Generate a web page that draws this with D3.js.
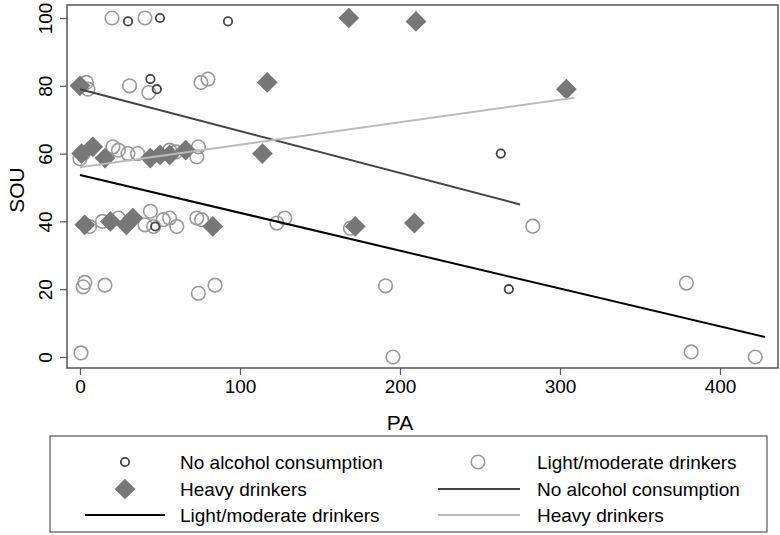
<!DOCTYPE html>
<html>
<head>
<meta charset="utf-8">
<script src="https://cdn.jsdelivr.net/npm/d3@7"></script>
<style>
  body { margin: 0; background: #fff; }
  svg text { font-family: "Liberation Sans", Arial, sans-serif; fill: #000; }
</style>
</head>
<body>
<div id="chart"></div>
<script>
// ---- data ----
// No alcohol consumption: [PA, SOU]
const noAlcPts = [[30, 99], [50, 100], [92.5, 99], [44, 82], [48, 79], [47, 38.5], [263, 60], [268, 20]];

// Light/moderate drinkers: [PA, SOU]
const lightPts = [
  [20, 100], [40.6, 100],
  [4, 81], [5, 79], [31, 80], [43, 78], [75.6, 81], [80, 82],
  [0, 58.5], [2, 60], [20.6, 62], [24, 61], [30, 60], [36, 60], [56, 61], [60, 60.5], [74, 62], [73, 59],
  [6, 38.5], [14, 40], [24, 41], [40.6, 39], [44, 43], [46, 38.5], [52, 40.5], [56, 41], [60.5, 38.5], [73, 41], [76, 40.5],
  [123, 39.5], [128, 41], [169, 38], [283, 38.6],
  [3, 22], [2, 20.7], [15.6, 21.2], [74, 18.8], [84.4, 21.2], [191, 21], [379, 21.8],
  [0.6, 1.2], [195.6, 0], [382, 1.5], [422, 0]
];

// Heavy drinkers: [PA, SOU]
const heavyPts = [
  [168, 100], [210, 99], [0, 80], [117, 81], [304, 79],
  [1, 60], [8, 62], [15.6, 58.7], [44, 58.7], [50, 59.6], [56, 59.6], [66, 61], [114, 60],
  [3, 39], [19, 40], [29, 39], [33, 41], [83, 38.5], [172, 38.5], [209, 39.5]
];

// fitted lines: [[PA start, SOU start], [PA end, SOU end]]
const fitNoAlc = [[0, 79], [275, 45]];
const fitLight = [[0, 53.7], [428, 5.9]];
const fitHeavy = [[0, 56], [309, 76.5]];

const xTicks = [0, 100, 200, 300, 400];
const yTicks = [0, 20, 40, 60, 80, 100];

const legendItems = [
  {label: "No alcohol consumption", kind: "smallCircle"},
  {label: "Light/moderate drinkers", kind: "circle"},
  {label: "Heavy drinkers", kind: "diamond"},
  {label: "No alcohol consumption", kind: "lineNoAlc"},
  {label: "Light/moderate drinkers", kind: "lineLight"},
  {label: "Heavy drinkers", kind: "lineHeavy"}
];

// ---- styles ----
const colNoAlc = "#444444";
const colLight = "#9a9a9a";
const colHeavy = "#777777";
const colLineNoAlc = "#444444";
const colLineLight = "#000000";
const colLineHeavy = "#bbbbbb";
const rSmall = 4.2, rBig = 6.8;

const W = 780, H = 535;
const frame = {left: 67, top: 5, right: 778, bottom: 368};

const svg = d3.select("#chart").append("svg")
    .attr("width", W)
    .attr("height", H);

const x = d3.scaleLinear().domain([0, 400]).range([80, 720]);
const y = d3.scaleLinear().domain([0, 100]).range([357, 18]);

// plot region outline
svg.append("rect")
    .attr("x", frame.left)
    .attr("y", frame.top)
    .attr("width", frame.right - frame.left)
    .attr("height", frame.bottom - frame.top)
    .attr("fill", "none")
    .attr("stroke", "#555")
    .attr("stroke-width", 1.5);

// axes
const xAxis = d3.axisBottom(x).tickValues(xTicks).tickSize(7).tickPadding(5);
const gx = svg.append("g")
    .attr("transform", "translate(0," + frame.bottom + ")")
    .call(xAxis);
gx.select(".domain").remove();
gx.selectAll(".tick line").attr("stroke", "#555").attr("stroke-width", 1.2);
gx.selectAll(".tick text").style("font-size", "19px").attr("fill", "#000");

const yAxis = d3.axisLeft(y).tickValues(yTicks).tickSize(7).tickPadding(0);
const gy = svg.append("g")
    .attr("transform", "translate(" + frame.left + ",0)")
    .call(yAxis);
gy.select(".domain").remove();
gy.selectAll(".tick line").attr("stroke", "#555").attr("stroke-width", 1.2);
gy.selectAll(".tick text")
    .style("font-size", "19px")
    .attr("fill", "#000")
    .attr("x", null).attr("dy", null)
    .attr("text-anchor", "middle")
    .attr("transform", "translate(-15,0) rotate(-90)");

// axis titles
svg.append("text")
    .attr("x", 400).attr("y", 430)
    .attr("text-anchor", "middle")
    .style("font-size", "21px")
    .text("PA");

svg.append("text")
    .attr("transform", "translate(24,190) rotate(-90)")
    .attr("text-anchor", "middle")
    .style("font-size", "21px")
    .text("SOU");

// clip to plot region
svg.append("clipPath").attr("id", "plotclip")
    .append("rect")
    .attr("x", frame.left).attr("y", frame.top)
    .attr("width", frame.right - frame.left)
    .attr("height", frame.bottom - frame.top);

const plot = svg.append("g").attr("clip-path", "url(#plotclip)");

const diamond = d3.symbol().type(d3.symbolSquare).size(215);

// light/moderate circles
plot.append("g").selectAll("circle")
    .data(lightPts)
    .join("circle")
    .attr("cx", d => x(d[0]))
    .attr("cy", d => y(d[1]))
    .attr("r", rBig)
    .attr("fill", "none")
    .attr("stroke", colLight)
    .attr("stroke-width", 1.6);

// heavy diamonds
plot.append("g").selectAll("path")
    .data(heavyPts)
    .join("path")
    .attr("d", diamond)
    .attr("transform", d => "translate(" + x(d[0]) + "," + y(d[1]) + ") rotate(45)")
    .attr("fill", colHeavy);

// no alcohol small circles
plot.append("g").selectAll("circle")
    .data(noAlcPts)
    .join("circle")
    .attr("cx", d => x(d[0]))
    .attr("cy", d => y(d[1]))
    .attr("r", rSmall)
    .attr("fill", "none")
    .attr("stroke", colNoAlc)
    .attr("stroke-width", 1.8);

// fitted lines
const line = d3.line().x(d => x(d[0])).y(d => y(d[1]));
[[fitNoAlc, colLineNoAlc], [fitLight, colLineLight], [fitHeavy, colLineHeavy]].forEach(f => {
    plot.append("path")
        .attr("d", line(f[0]))
        .attr("fill", "none")
        .attr("stroke", f[1])
        .attr("stroke-width", 2);
});

// legend
const legend = svg.append("g").attr("class", "legend");
legend.append("rect")
    .attr("x", 50).attr("y", 436)
    .attr("width", 717).attr("height", 96)
    .attr("fill", "#fff")
    .attr("stroke", "#555")
    .attr("stroke-width", 1.2);

const legCols = [{sym: 125, l0: 85, l1: 165, text: 180}, {sym: 478, l0: 438, l1: 520, text: 537}];
const legRows = [462, 489, 515];

legendItems.forEach((it, i) => {
    const c = legCols[i % 2], ry = legRows[Math.floor(i / 2)];
    const g = legend.append("g");
    if (it.kind === "smallCircle") {
        g.append("circle").attr("cx", c.sym).attr("cy", ry).attr("r", rSmall)
            .attr("fill", "none").attr("stroke", colNoAlc).attr("stroke-width", 1.8);
    } else if (it.kind === "circle") {
        g.append("circle").attr("cx", c.sym).attr("cy", ry).attr("r", rBig)
            .attr("fill", "none").attr("stroke", colLight).attr("stroke-width", 1.6);
    } else if (it.kind === "diamond") {
        g.append("path").attr("d", diamond)
            .attr("transform", "translate(" + c.sym + "," + ry + ") rotate(45)")
            .attr("fill", colHeavy);
    } else {
        const col = it.kind === "lineNoAlc" ? colLineNoAlc : it.kind === "lineLight" ? colLineLight : colLineHeavy;
        g.append("line").attr("x1", c.l0).attr("x2", c.l1).attr("y1", ry).attr("y2", ry)
            .attr("stroke", col).attr("stroke-width", 2);
    }
    g.append("text")
        .attr("x", c.text).attr("y", ry)
        .attr("dy", "0.35em")
        .style("font-size", "19px")
        .text(it.label);
});
</script>
</body>
</html>
